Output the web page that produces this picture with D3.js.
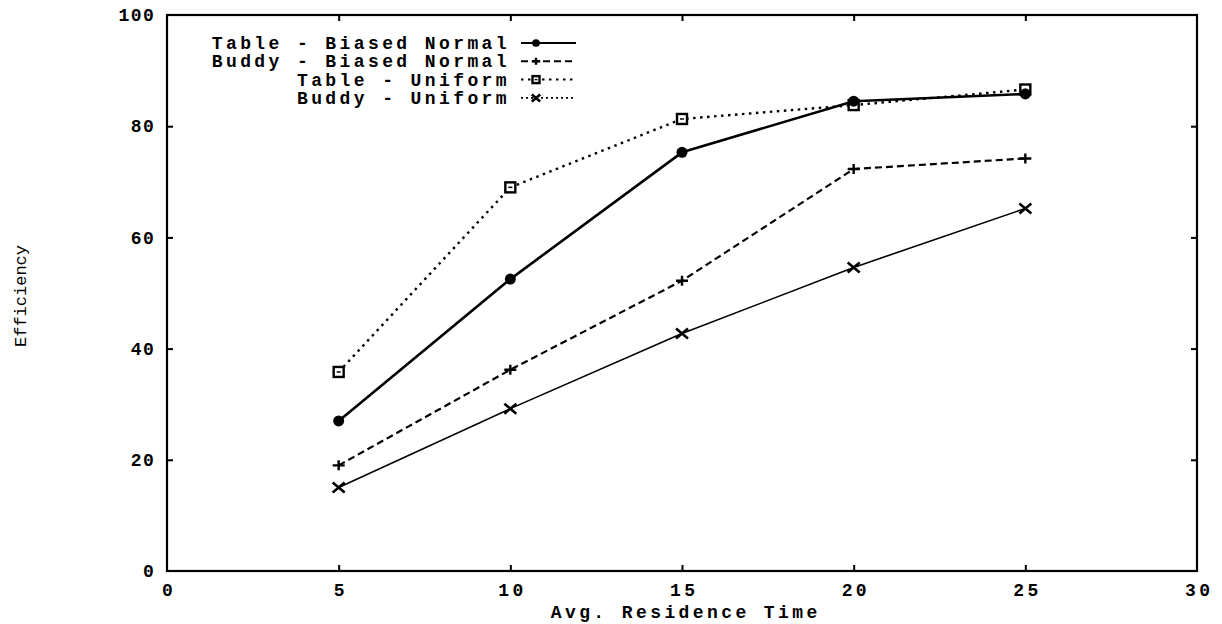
<!DOCTYPE html>
<html><head><meta charset="utf-8">
<script src="https://cdn.jsdelivr.net/npm/d3@7"></script>
<style>
body{margin:0;background:#fff;}
text{fill:#000;}
</style></head>
<body><svg id="c" width="1222" height="624"></svg>
<script>
const xValues = [5, 10, 15, 20, 25];
const tableBiased = [27, 52.5, 75.3, 84.5, 85.8];
const buddyBiased = [19, 36.2, 52.2, 72.3, 74.2];
const tableUniform = [35.8, 69, 81.3, 83.8, 86.6];
const buddyUniform = [15, 29.2, 42.7, 54.6, 65.2];
const seriesNames = ["Table - Biased Normal", "Buddy - Biased Normal", "Table - Uniform", "Buddy - Uniform"];
const xTicks = [0, 5, 10, 15, 20, 25, 30];
const yTicks = [0, 20, 40, 60, 80, 100];
const xTitle = "Avg. Residence Time";
const yTitle = "Efficiency";

const styles = [
  {w: 2.6, dash: null, marker: "circle"},
  {w: 2.2, dash: "7,4", marker: "plus"},
  {w: 2.4, dash: "2.5,4.5", marker: "square"},
  {w: 1.6, dash: null, marker: "cross"}
];
const allSeries = [tableBiased, buddyBiased, tableUniform, buddyUniform];

const svg = d3.select("#c");
const L = 167, R = 1197, T = 15, B = 571;
const x = d3.scaleLinear().domain([0, 30]).range([L, R]);
const y = d3.scaleLinear().domain([0, 100]).range([B, T]);

const FONT = "'Liberation Mono', 'DejaVu Sans Mono', monospace";
const LS = 3.4, FS = 18;

function styleAxis(g, labels) {
  g.select(".domain").remove();
  g.selectAll(".tick line").attr("stroke", "#000").attr("stroke-width", 2);
  g.selectAll(".tick text")
    .attr("font-family", FONT).attr("font-weight", "bold")
    .attr("font-size", FS).attr("letter-spacing", LS)
    .style("display", labels ? null : "none");
}

svg.append("rect").attr("x", L).attr("y", T).attr("width", R - L).attr("height", B - T)
  .attr("fill", "none").attr("stroke", "#000").attr("stroke-width", 2.2);

const gb = svg.append("g").attr("transform", `translate(0,${B})`)
  .call(d3.axisBottom(x).tickValues(xTicks).tickSize(-6).tickPadding(12).tickFormat(d3.format("d")));
styleAxis(gb, true);
gb.selectAll(".tick text").attr("dx", LS / 2);
gb.selectAll(".tick line").filter(d => d === 0 || d === 30).remove();

const gt = svg.append("g").attr("transform", `translate(0,${T})`)
  .call(d3.axisTop(x).tickValues(xTicks.filter(d => d > 0 && d < 30)).tickSize(-6));
styleAxis(gt, false);

const gl = svg.append("g").attr("transform", `translate(${L},0)`)
  .call(d3.axisLeft(y).tickValues(yTicks).tickSize(-6).tickPadding(15).tickFormat(d3.format("d")));
styleAxis(gl, true);
gl.selectAll(".tick text").attr("dx", LS).attr("letter-spacing", 1.5);
gl.selectAll(".tick line").filter(d => d === 0 || d === 100).remove();

const gr = svg.append("g").attr("transform", `translate(${R},0)`)
  .call(d3.axisRight(y).tickValues(yTicks.filter(d => d > 0 && d < 100)).tickSize(-6));
styleAxis(gr, false);

svg.append("text").attr("x", (x(0) + x(30)) / 2 + LS / 2 + 2).attr("y", 618)
  .attr("text-anchor", "middle").attr("font-family", FONT).attr("font-weight", "bold")
  .attr("font-size", FS).attr("letter-spacing", LS).text(xTitle);

svg.append("text").attr("transform", "translate(26,296) rotate(-90)")
  .attr("text-anchor", "middle").attr("font-family", FONT)
  .attr("font-size", 17).attr("letter-spacing", 0).text(yTitle);

function drawMarker(g, type, cx, cy, s) {
  if (type === "circle") {
    g.append("circle").attr("cx", cx).attr("cy", cy).attr("r", 5.5 * s).attr("fill", "#000");
  } else if (type === "plus") {
    g.append("path").attr("d", `M${cx - 6 * s},${cy}H${cx + 6 * s}M${cx},${cy - 5 * s}V${cy + 5 * s}`)
      .attr("stroke", "#000").attr("stroke-width", 2.4).attr("fill", "none");
  } else if (type === "square") {
    g.append("rect").attr("x", cx - 5 * s).attr("y", cy - 5 * s).attr("width", 10 * s).attr("height", 10 * s)
      .attr("fill", "#fff").attr("stroke", "#000").attr("stroke-width", 2.4);
    g.append("path").attr("d", `M${cx - 2 * s},${cy}H${cx + 2 * s}`).attr("stroke", "#000").attr("stroke-width", 1.5);
  } else if (type === "cross") {
    g.append("path").attr("d", `M${cx - 6 * s},${cy - 5 * s}L${cx + 6 * s},${cy + 5 * s}M${cx - 6 * s},${cy + 5 * s}L${cx + 6 * s},${cy - 5 * s}`)
      .attr("stroke", "#000").attr("stroke-width", 2.6).attr("fill", "none");
  }
}

const line = d3.line().x((d, i) => x(xValues[i])).y(d => y(d));
const plot = svg.append("g");
[2, 1, 3, 0].forEach(k => {
  const st = styles[k];
  plot.append("path").datum(allSeries[k]).attr("d", line)
    .attr("fill", "none").attr("stroke", "#000").attr("stroke-width", st.w)
    .attr("stroke-dasharray", st.dash).attr("stroke-linejoin", "round").attr("stroke-linecap", st.dash ? "butt" : "round");
  allSeries[k].forEach((v, i) => drawMarker(plot, st.marker, x(xValues[i]), y(v), 1));
});

const leg = svg.append("g");
seriesNames.forEach((name, k) => {
  const ly = 43 + k * 18.3;
  leg.append("text").attr("x", 510).attr("y", ly + 6).attr("text-anchor", "end")
    .attr("font-family", FONT).attr("font-weight", "bold").attr("font-size", FS)
    .attr("letter-spacing", LS).text(name);
  const st = styles[k];
  leg.append("path").attr("d", `M521,${ly}H576`).attr("fill", "none").attr("stroke", "#000")
    .attr("stroke-width", Math.min(st.w, 2)).attr("stroke-dasharray", k === 0 ? null : (k === 3 ? "2,3" : st.dash));
  drawMarker(leg, st.marker, 536, ly, 0.7);
});
</script>
</body></html>
